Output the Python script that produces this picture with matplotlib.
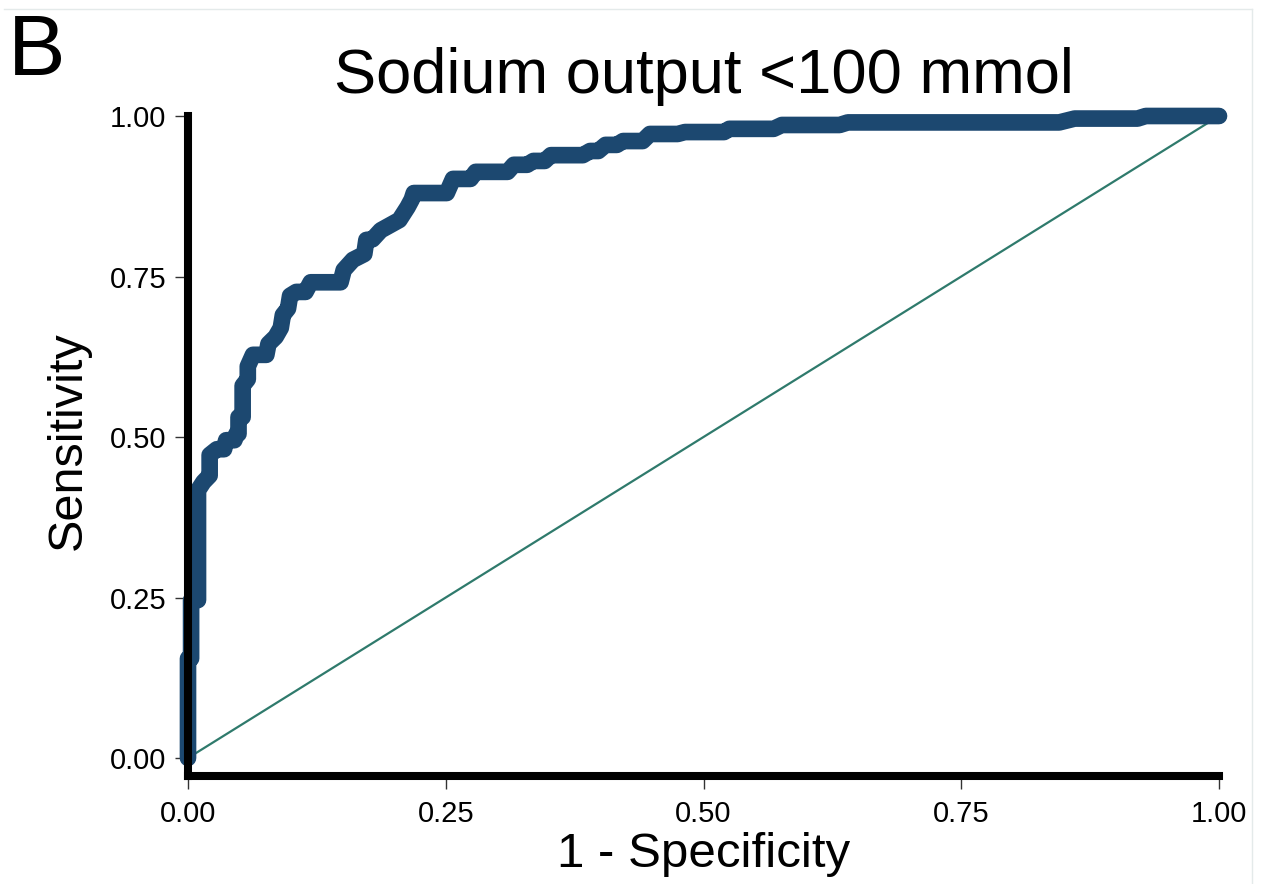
import matplotlib
matplotlib.use("Agg")
import matplotlib.pyplot as plt
from matplotlib.lines import Line2D

plt.rcParams['font.family'] = ['Liberation Sans', 'DejaVu Sans']

# ROC curve (1 - specificity, sensitivity)
fpr = [0.0, 0.0, 0.003, 0.003, 0.0097, 0.0097, 0.015, 0.021, 0.021, 0.028,
       0.035, 0.037, 0.045, 0.047, 0.049, 0.049, 0.053, 0.053, 0.058, 0.058,
       0.063, 0.076, 0.078, 0.085, 0.090, 0.092, 0.097, 0.099, 0.105, 0.114,
       0.119, 0.148, 0.151, 0.160, 0.171, 0.173, 0.179, 0.187, 0.205, 0.213,
       0.217, 0.219, 0.251, 0.257, 0.274, 0.279, 0.310, 0.316, 0.329, 0.335,
       0.346, 0.352, 0.383, 0.390, 0.398, 0.405, 0.416, 0.422, 0.441, 0.448,
       0.475, 0.482, 0.520, 0.525, 0.568, 0.576, 0.632, 0.640, 0.845, 0.860,
       0.921, 0.929, 1.0]
tpr = [0.0, 0.155, 0.155, 0.246, 0.246, 0.417, 0.430, 0.440, 0.472, 0.481,
       0.481, 0.495, 0.495, 0.505, 0.505, 0.531, 0.531, 0.580, 0.590, 0.610,
       0.628, 0.628, 0.645, 0.656, 0.670, 0.690, 0.700, 0.720, 0.726, 0.726,
       0.741, 0.741, 0.760, 0.776, 0.785, 0.807, 0.808, 0.822, 0.838, 0.858,
       0.870, 0.880, 0.880, 0.902, 0.902, 0.913, 0.913, 0.924, 0.924, 0.930,
       0.930, 0.939, 0.939, 0.9455, 0.9455, 0.955, 0.955, 0.961, 0.961, 0.972,
       0.972, 0.975, 0.975, 0.980, 0.980, 0.986, 0.986, 0.990, 0.990, 0.996,
       0.996, 1.0, 1.0]

ticks = [0.0, 0.25, 0.5, 0.75, 1.0]
tick_labels = ["0.00", "0.25", "0.50", "0.75", "1.00"]

W, H = 1271, 884
fig = plt.figure(figsize=(W / 100, H / 100), dpi=100)
ax = fig.add_axes([188 / W, (H - 776) / H, (1219 - 188) / W, (776 - 116) / H])

# reference line
ax.plot([0, 1], [0, 1], color='#2f7a6c', lw=1.6, zorder=1)
# ROC curve
ax.plot(fpr, tpr, color='#1c4870', lw=12, solid_capstyle='round',
        solid_joinstyle='round', clip_on=False, zorder=2)

ax.set_xlim(0, 1)
ax.set_ylim(-0.028, 1.0)
ax.set_xticks(ticks)
ax.set_xticklabels(tick_labels)
ax.set_yticks(ticks)
ax.set_yticklabels(tick_labels)

for side in ['top', 'right']:
    ax.spines[side].set_visible(False)
for side in ['left', 'bottom']:
    ax.spines[side].set_linewidth(5.8)
    ax.spines[side].set_color('black')
    ax.spines[side].set_capstyle('projecting')
    ax.spines[side].set_zorder(3)

ax.tick_params(axis='both', direction='out', length=9.5, width=1.0,
               color='#333333', labelsize=21, labelcolor='black')
ax.tick_params(axis='y', pad=6)
ax.tick_params(axis='x', pad=8)

# texts
fig.text(703.5 / W, 1 - 93 / H, "Sodium output <100 mmol", fontsize=45.5,
         ha='center', va='baseline')
fig.text(68 / W, 1 - 441 / H, "Sensitivity", fontsize=35, rotation=90,
         ha='center', va='center')
fig.text(703.5 / W, 1 - 867 / H, "1 - Specificity", fontsize=35.5,
         ha='center', va='baseline')
fig.text(8 / W, 1 - 75 / H, "B", fontsize=62, ha='left', va='baseline')

# faint frame lines at the top and right
fig.add_artist(Line2D([4 / W, 1252 / W], [1 - 9 / H, 1 - 9 / H],
                      transform=fig.transFigure, color='#e4eaea', lw=1))
fig.add_artist(Line2D([1252 / W, 1252 / W], [1 - 9 / H, 0],
                      transform=fig.transFigure, color='#e4eaea', lw=1))

fig.savefig("out.png", dpi=100)
